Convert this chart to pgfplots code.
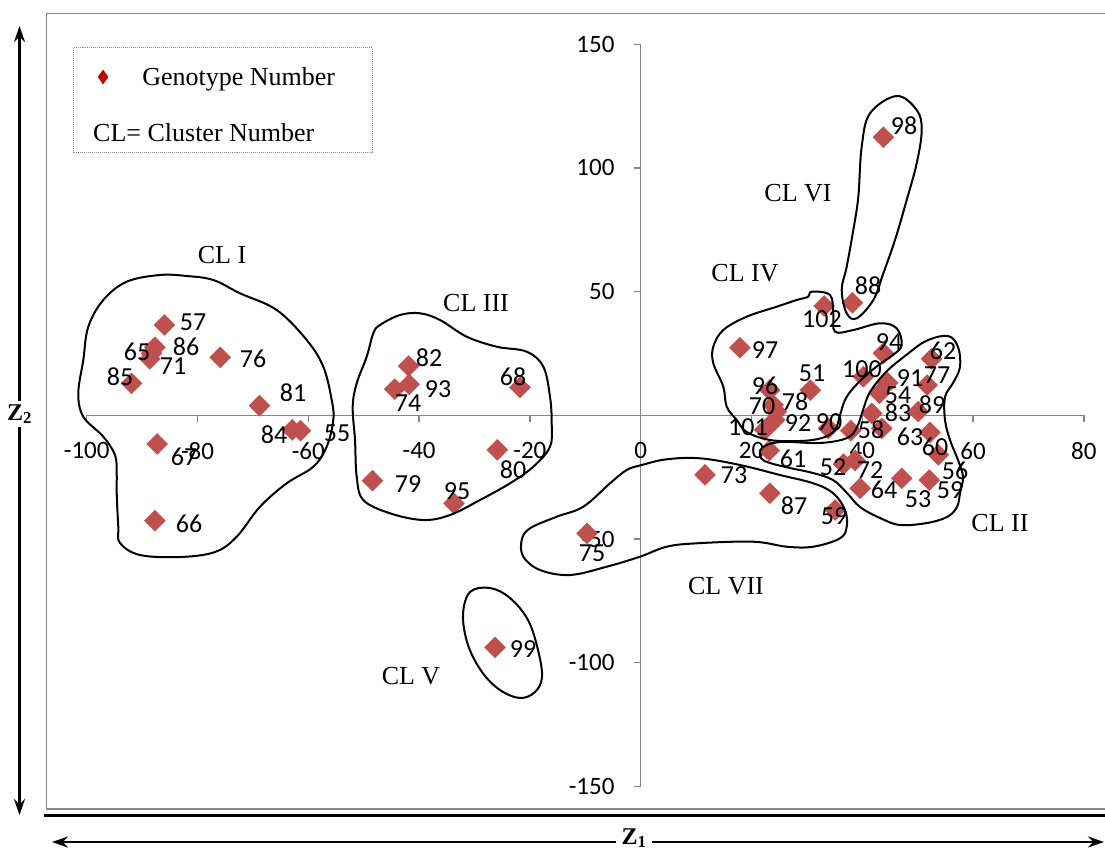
\documentclass[border=0pt]{standalone}
\usepackage{fontspec}
\setmainfont{Liberation Serif}
\newfontfamily\carlito{Carlito}
\usepackage{pgfplots}
\pgfplotsset{compat=1.18}
\usetikzlibrary{arrows.meta}
\definecolor{mk}{HTML}{C0504D}
\definecolor{legred}{HTML}{C00000}
\definecolor{axg}{HTML}{868686}
\newcommand{\lb}[3]{\node[font=\carlito\fontsize{26bp}{30bp}\selectfont, inner sep=0pt] at (axis cs:#1,#2) {#3};}
\newcommand{\cl}[3]{\node[font=\fontsize{26bp}{30bp}\selectfont, inner sep=0pt] at (axis cs:#1,#2) {#3};}
\begin{document}
\begin{tikzpicture}
\path[use as bounding box] (0,0) rectangle (1105bp,852bp);
\begin{axis}[
  at={(86.7bp,65.6bp)}, anchor=south west,
  scale only axis, width=997.2bp, height=742.2bp,
  xmin=-100, xmax=80, ymin=-150, ymax=150,
  axis lines=middle,
  axis line style={draw=axg, line width=1.5bp, -},
  xtick={-100,-80,...,80}, ytick={-150,-100,-50,50,100,150},
  hide obscured x ticks=false, hide obscured y ticks=false,
  tick align=outside,
  major tick length=7bp,
  tick style={draw=axg, line width=1.3bp},
  /pgf/number format/assume math mode=true,
  tick label style={font=\carlito\fontsize{25bp}{30bp}\selectfont, inner sep=0pt},
  xticklabel style={anchor=north, yshift=-20bp},
  yticklabel style={anchor=east, xshift=-19bp},
  clip=false,
  legend style={draw=none, fill=none, at={(axis description cs:0.011,0.9558)}, anchor=west,
    inner sep=0pt, nodes={inner sep=0pt}, column sep=34bp,
    font=\fontsize{26bp}{30bp}\selectfont},
  legend image code/.code={\fill[legred] (5bp,7bp)--(10bp,0)--(5bp,-7bp)--(0,0)--cycle;},
]
\addplot[only marks, mark=square*, mark size=7.4bp, mark options={rotate=45, fill=mk, draw=mk}] coordinates {
(-86.0,36.5) (-87.7,27.5) (-88.3,25.0) (-88.6,22.8) (-91.9,12.9) (-75.9,23.4) (-68.8,3.9)
(-62.9,-5.9) (-61.4,-6.2) (-87.3,-11.6) (-87.7,-42.6)
(-41.9,19.9) (-41.8,12.5) (-44.4,10.6) (-21.8,11.3) (-25.9,-14.0) (-48.4,-26.4) (-33.7,-35.6)
(-26.3,-93.8) (-9.7,-47.7) (11.6,-24.1) (23.3,-31.5) (35.1,-38.3)
(23.2,-14.3) (36.6,-19.7) (38.7,-18.3) (39.6,-29.5) (47.1,-25.5) (52.1,-26.2) (53.7,-16.0)
(52.2,-6.9) (43.5,-5.3) (50.1,1.5) (41.7,0.8) (43.1,8.9) (44.6,13.1) (51.7,12.2) (52.5,22.8)
(40.2,15.6) (43.8,25.1) (33.1,44.2) (38.2,45.5) (43.8,112.4)
(17.9,27.3) (23.3,10.2) (30.6,10.2) (23.9,4.2) (24.5,1.5) (24.2,-1.9) (22.4,-5.9) (33.9,-5.3) (37.9,-6.2)
};
\addlegendentry{Genotype Number}
\end{axis}
\begin{axis}[
  at={(0,0)}, anchor=south west, scale only axis, width=1105bp, height=852bp,
  xmin=0, xmax=1105, ymin=0, ymax=852, y dir=reverse, hide axis, clip=false]
% frame
\draw[axg, line width=1.8bp] (1106,13.5) -- (46.5,13.5) -- (46.5,809) -- (1106,809);
\draw[black, line width=3.5bp] (44,815.5) -- (1106,815.5);
% legend box
\draw[axg, densely dotted, line width=1bp] (73,48) rectangle (372,153);
\node[anchor=west, inner sep=0pt, font=\fontsize{26bp}{30bp}\selectfont] at (axis cs:93,133) {CL= Cluster Number};
% arrows
\draw[line width=2.2bp, {Stealth[length=16bp,width=11bp]}-{Stealth[length=16bp,width=11bp]}] (19.5,26) -- (19.5,815);
\draw[line width=2.2bp, {Stealth[length=16bp,width=11bp]}-{Stealth[length=16bp,width=11bp]}] (52,842) -- (1104,842);
\node[fill=white, inner sep=3bp, font=\bfseries\fontsize{24bp}{28bp}\selectfont] at (axis cs:19.5,414) {Z$_{\mathbf 2}$};
\node[fill=white, inner xsep=6bp, inner ysep=1bp, font=\bfseries\fontsize{24bp}{28bp}\selectfont] at (axis cs:634,838) {Z$_{\mathbf 1}$};
% clusters
\draw[line width=2bp] plot[smooth cycle, tension=0.6] coordinates {(186.7,276) (213.3,280) (240,293.3) (276.7,310) (306.7,340) (323.3,366.7) (331.7,400) (333.3,420) (326.7,446.7) (313.3,466.7) (286.7,483.3) (260,506.7) (236.7,536.7) (215,552) (180,557) (140,555) (120,543) (118.3,526.7) (116.7,493.3) (116.7,473.3) (115,455) (103.3,436.7) (83.3,416.7) (78.3,393.3) (83.3,360) (88.3,326.7) (103.3,300) (126.7,281.7) (160,275)};
\draw[line width=2bp] plot[smooth cycle, tension=0.6] coordinates {(380,325) (400,315) (420,313.3) (440,320) (466.7,336.7) (496.7,346.7) (526.7,351.7) (543.3,366.7) (550,396.7) (551.7,423.3) (550,446.7) (533.3,466.7) (510,483.3) (480,500) (450,515) (423.3,520) (390,513.3) (363.3,500) (356.7,476.7) (355,440) (352.7,406.7) (356.7,383.3) (366.7,356.7) (373.3,333.3)};
\draw[line width=2bp] plot[smooth cycle, tension=0.6] coordinates {(470,592) (490,588) (510,598) (528,620) (538,650) (542,677) (535,692) (520,698) (500,690) (482,672) (468,645) (463,615)};
\draw[line width=2bp] plot[smooth cycle, tension=0.6] coordinates {(641.7,465) (666.7,459.3) (700,458.3) (740,465) (780,475) (813.3,483.3) (833.3,493.3) (845,510) (846.7,526.7) (840,538.3) (813.3,546.7) (786.7,546.7) (753.3,541.7) (696.7,543.3) (666.7,546.7) (640,556.7) (606.7,566.7) (570,575) (540,570) (523.3,556.7) (521.7,540) (530,528.3) (556.7,516.7) (583.3,506.7) (610,483.3) (626.7,470)};
\draw[line width=2bp] plot[smooth cycle, tension=0.6] coordinates {(896.7,96) (916.7,110) (921.7,130) (916.7,163.3) (906.7,200) (895,240) (883.3,273.3) (873.3,300) (856.7,318.3) (846.7,313.3) (841.7,290) (846.7,266.7) (853.3,230) (858.3,196.7) (861.7,146.7) (870,113.3)};
\draw[line width=2bp] plot[smooth cycle, tension=0.6] coordinates {(808.3,296.7) (811.7,291.7) (830,295) (833.3,313.3) (835,331.7) (853.3,330) (880,323.3) (896.7,328.3) (901.7,345) (893,355) (876,367) (858,383) (846,398) (840,415) (835,430) (822,438) (800,441) (770,440) (746.7,432) (736.7,420) (726.7,406.7) (723.3,386.7) (713.3,363.3) (713.3,346.7) (723.3,330) (746.7,316.7) (776.7,306.7) (796.7,300)};
\draw[line width=2bp] plot[smooth cycle, tension=0.6] coordinates {(948,336) (958,347) (960,367) (953,383) (945,397) (945,420) (950,440) (958,460) (963,477) (960,493) (957,507) (947,517) (927,523) (900,525) (880,518) (860,507) (847,493) (833,480) (813,473) (790,468) (770,463) (761,458) (762,448) (780,442) (820,443) (847,438) (857,427) (863,410) (870,392) (886,372) (905,356) (926,341)};
% cluster labels
\cl{222}{255}{CL I} \cl{476}{303}{CL III} \cl{745}{273}{CL IV} \cl{798}{193}{CL VI}
\cl{1000}{523}{CL II} \cl{726}{586}{CL VII} \cl{411}{676}{CL V}
% data labels
\lb{193}{322}{57} \lb{186}{347}{86} \lb{137}{352}{65} \lb{173}{366}{71} \lb{120}{377}{85}
\lb{253}{359}{76} \lb{293}{393}{81} \lb{274}{435}{84} \lb{337}{433}{55} \lb{184}{457}{67} \lb{189}{524}{66}
\lb{429}{358}{82} \lb{438}{389}{93} \lb{408}{403}{74} \lb{513}{377}{68} \lb{513}{470}{80} \lb{408}{484}{79} \lb{457}{491}{95}
\lb{523}{649}{99} \lb{592}{553}{75} \lb{734}{475}{73} \lb{794}{506}{87} \lb{834}{516}{59}
\lb{793}{459}{61} \lb{833}{467}{52} \lb{870}{470}{72} \lb{884}{490}{64} \lb{918}{499}{53} \lb{950}{490}{59} \lb{955}{471}{56}
\lb{935}{447}{60} \lb{910}{437}{63} \lb{932}{405}{89} \lb{898}{413}{83} \lb{898}{395}{54} \lb{910}{378}{91} \lb{937}{375}{77} \lb{943}{351}{62}
\lb{862}{369}{100} \lb{889}{342}{94} \lb{822}{319}{102} \lb{868}{286}{88} \lb{904}{126}{98}
\lb{765}{350}{97} \lb{765}{386}{96} \lb{812}{373}{51} \lb{762}{406}{70} \lb{795}{402}{78} \lb{748}{427}{101} \lb{798}{423}{92} \lb{829}{422}{90} \lb{871}{430}{58}
\end{axis}
\end{tikzpicture}
\end{document}
